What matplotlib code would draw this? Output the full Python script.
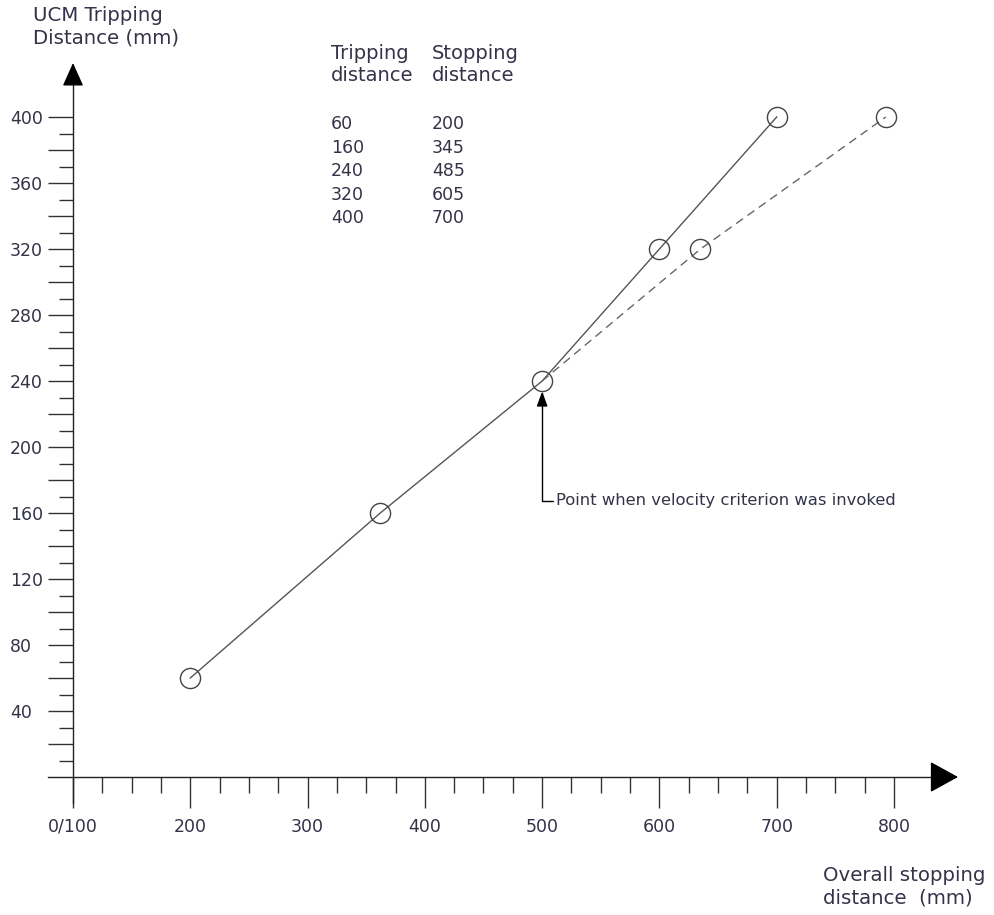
import matplotlib.pyplot as plt
from matplotlib.ticker import FixedLocator, NullFormatter

# table printed on the chart
trip_table = [60, 160, 240, 320, 400]
stop_table = [200, 345, 485, 605, 700]

# plotted points
solid_x = [200, 362, 500, 600, 700]
solid_y = [60, 160, 240, 320, 400]
dash_x = [500, 635, 793]
dash_y = [240, 320, 400]

x_ticks = [100, 200, 300, 400, 500, 600, 700, 800]
x_labels = ["0/100", "200", "300", "400", "500", "600", "700", "800"]

TXT = "#33334a"
plt.rcParams['font.family'] = ['DejaVu Sans']

W, H = 994, 915
fig = plt.figure(figsize=(W / 100, H / 100), dpi=100)
ax = fig.add_axes([0, 0, 1, 1])


def fx(px):
    return px / W


def fy(py):
    return 1 - py / H


# pixel mapping of the reference: x 100 -> 73px, 800 -> 894px ; y 0 -> 777px, 400 -> 117px
sx = (894 - 73) / 700
sy = (777 - 117) / 400
ax.set_xlim(100 - 73 / sx, 100 + (W - 73) / sx)
ax.set_ylim(-(H - 777) / sy, 777 / sy)

for s in ["top", "right"]:
    ax.spines[s].set_visible(False)
ax.spines["left"].set_position(("data", 100))
ax.spines["bottom"].set_position(("data", 0))
ax.spines["left"].set_bounds(-(803 - 777) / sy, (777 - 75) / sy)
ax.spines["bottom"].set_bounds(100 - (73 - 48) / sx, 100 + (945 - 73) / sx)
for s in ["left", "bottom"]:
    ax.spines[s].set_color("#222222")
    ax.spines[s].set_linewidth(1.0)

# y ticks
y_major = list(range(20, 420, 20))
ax.set_yticks(y_major)
ax.set_yticklabels([str(v) if v % 40 == 0 else "" for v in y_major])
ax.yaxis.set_minor_locator(FixedLocator(list(range(10, 400, 20))))
ax.yaxis.set_minor_formatter(NullFormatter())
ax.tick_params(axis="y", which="major", direction="out", length=18, width=1.0,
               color="#333333", labelsize=12.5, labelcolor=TXT, pad=27.5)
ax.tick_params(axis="y", which="minor", direction="out", length=10, width=1.0, color="#333333")
for lab in ax.get_yticklabels():
    lab.set_horizontalalignment("left")

# x ticks
ax.set_xticks(x_ticks)
ax.set_xticklabels(x_labels)
ax.xaxis.set_minor_locator(FixedLocator([v for v in range(125, 800, 25) if v % 100]))
ax.tick_params(axis="x", which="major", direction="out", length=22, width=1.0,
               color="#333333", labelsize=12.5, labelcolor=TXT, pad=7.5)
ax.tick_params(axis="x", which="minor", direction="out", length=11.5, width=1.0, color="#333333")

# axis arrow heads
ax.annotate("", xy=(100, (777 - 63) / sy), xytext=(100, (777 - 80) / sy),
            arrowprops=dict(arrowstyle="-|>,head_length=1.0,head_width=0.45",
                            mutation_scale=14.5, color="black", lw=1, shrinkA=0, shrinkB=0))
ax.annotate("", xy=(100 + (958 - 73) / sx, 0), xytext=(100 + (936 - 73) / sx, 0),
            arrowprops=dict(arrowstyle="-|>,head_length=1.0,head_width=0.55",
                            mutation_scale=18, color="black", lw=1, shrinkA=0, shrinkB=0))

# data lines
ax.plot(solid_x, solid_y, color="#555555", lw=1.0, zorder=3)
ax.plot(dash_x, dash_y, color="#666666", lw=1.0, dashes=(6, 4), zorder=3)
ax.plot(solid_x, solid_y, ls="none", marker="o", ms=14.5, mfc="none", mec="#444444", mew=1.0, zorder=4)
ax.plot(dash_x[1:], dash_y[1:], ls="none", marker="o", ms=14.5, mfc="none", mec="#444444", mew=1.0, zorder=4)

# annotation
ax.annotate("Point when velocity criterion was invoked",
            xy=(solid_x[2], solid_y[2]), xytext=(100 + (556 - 73) / sx, (777 - 501) / sy),
            ha="left", va="center", fontsize=11.8, color=TXT,
            arrowprops=dict(arrowstyle="-|>,head_length=0.6,head_width=0.22", mutation_scale=15,
                            color="black", lw=1.0, shrinkA=0, shrinkB=7.5,
                            connectionstyle="angle,angleA=0,angleB=90,rad=0",
                            relpos=(0, 0.5)))

# table
for px, head in [(331, "Tripping\ndistance"), (432, "Stopping\ndistance")]:
    fig.text(fx(px), fy(44), head, ha="left", va="top", fontsize=14,
             color=TXT, linespacing=1.2)
for i, (t, s) in enumerate(zip(trip_table, stop_table)):
    yy = fy(124 + i * 23.5)
    fig.text(fx(331), yy, str(t), ha="left", va="center", fontsize=12.5, color=TXT)
    fig.text(fx(432), yy, str(s), ha="left", va="center", fontsize=12.5, color=TXT)

# axis titles
fig.text(fx(33), fy(6), "UCM Tripping\nDistance (mm)", ha="left", va="top", fontsize=14.2,
         color=TXT, linespacing=1.2)
fig.text(fx(823), fy(866), "Overall stopping\ndistance  (mm)", ha="left", va="top", fontsize=14.2,
         color=TXT, linespacing=1.2)

fig.savefig("out.png", dpi=100)
